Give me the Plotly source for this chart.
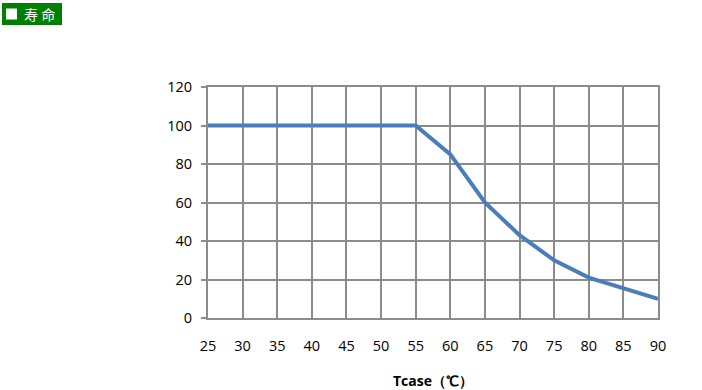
import plotly.graph_objects as go

temps = [25, 30, 35, 40, 45, 50, 55, 60, 65, 70, 75, 80, 85, 90]
life = [100, 100, 100, 100, 100, 100, 100, 85, 60, 43, 30, 21, 15.5, 10]
x_ticks = [25, 30, 35, 40, 45, 50, 55, 60, 65, 70, 75, 80, 85, 90]
y_ticks = [0, 20, 40, 60, 80, 100, 120]

W, H = 702, 390
L, R, T, B = 208, 44, 87, 72
pw, ph = W - L - R, H - T - B

def px(x):
    return (x - L) / pw

def py(y):
    return 1 - (y - T) / ph

fig = go.Figure()
fig.add_trace(go.Scatter(x=temps, y=life, mode="lines",
                         line=dict(color="#4A7EBB", width=4), showlegend=False,
                         hoverinfo="skip"))

grid = "#8C8C8C"
font = dict(family="Open Sans, Liberation Sans, sans-serif", size=14.5, color="#000000")
fig.update_layout(
    width=W, height=H, margin=dict(l=L, r=R, t=T, b=B),
    paper_bgcolor="white", plot_bgcolor="white",
    font=font,
    xaxis=dict(range=[25, 90], tickvals=x_ticks, showgrid=True, gridcolor=grid, gridwidth=2,
               zeroline=False, showline=True, mirror=True, linecolor=grid, linewidth=2,
               ticks="", ticklabelstandoff=14, automargin=False,
               title=dict(text="<b>Tcase（℃）</b>", font=dict(size=14), standoff=23)),
    yaxis=dict(range=[0, 120], tickvals=y_ticks, showgrid=True, gridcolor=grid, gridwidth=2,
               zeroline=False, showline=True, mirror=True, linecolor=grid, linewidth=2,
               ticks="outside", ticklen=5, tickwidth=2, automargin=False,
               tickcolor=grid, ticklabelstandoff=6),
    shapes=[
        dict(type="rect", xref="paper", yref="paper", x0=px(2), x1=px(62), y0=py(25), y1=py(3),
             fillcolor="#008000", line=dict(width=0), layer="above"),
        dict(type="rect", xref="paper", yref="paper", x0=px(6), x1=px(17), y0=py(19.5), y1=py(8.5),
             fillcolor="white", line=dict(width=0), layer="above"),
    ],
    annotations=[
        dict(text="寿 命", xref="paper", yref="paper", x=px(22), y=py(14), xanchor="left",
             yanchor="middle", showarrow=False,
             font=dict(family="Noto Sans CJK SC", size=14, color="white")),
    ],
)
fig.write_html("out.html")
